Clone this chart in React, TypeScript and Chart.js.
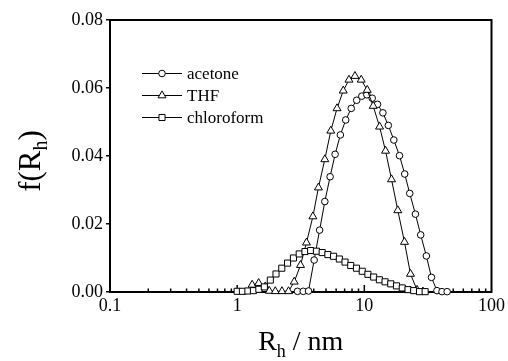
import React, { useEffect, useRef } from 'react';
import { Chart, registerables } from 'chart.js';

Chart.register(...registerables);

// ---- data (R_h in nm, f(R_h)) ----
const acetoneR = [2.98, 3.31, 3.64, 4.03, 4.45, 4.89, 5.38, 5.89, 6.48, 7.14, 7.89, 8.71, 9.55, 10.47, 11.53, 12.7, 13.99, 15.44, 17.06, 18.9, 20.78, 22.75, 25.22, 27.75, 30.74, 33.71, 37.25, 40.8, 44.8];
const acetoneF = [0.0002, 0.0002, 0.0003, 0.0094, 0.0182, 0.0266, 0.0339, 0.0405, 0.0462, 0.0506, 0.054, 0.0564, 0.0576, 0.058, 0.057, 0.0552, 0.0527, 0.049, 0.0447, 0.0401, 0.0347, 0.029, 0.0229, 0.0168, 0.0106, 0.0043, 0.0004, 0.0001, 0.0001];

const thfR = [1.311, 1.476, 1.665, 1.79, 1.995, 2.25, 2.535, 2.81, 3.148, 3.508, 3.94, 4.355, 4.89, 5.45, 6.1, 6.83, 7.57, 8.44, 9.45, 10.54, 11.74, 13.18, 14.68, 16.36, 18.33, 20.69, 23.06, 25.96, 28.9];
const thfF = [0.0021, 0.0026, 0.0016, 0.0003, 0.0002, 0.0002, 0.0002, 0.003, 0.0079, 0.0145, 0.0222, 0.0307, 0.039, 0.0474, 0.054, 0.0592, 0.0624, 0.0635, 0.0624, 0.0594, 0.0547, 0.0486, 0.0415, 0.0331, 0.024, 0.0147, 0.0053, 0.0006, 0.0001];

const chloroformR = [1.0, 1.1, 1.215, 1.342, 1.481, 1.636, 1.823, 2.02, 2.243, 2.49, 2.77, 3.076, 3.414, 3.785, 4.2, 4.66, 5.17, 5.73, 6.36, 7.05, 7.82, 8.67, 9.63, 10.67, 11.85, 13.13, 14.56, 16.14, 17.9, 19.87, 22.07, 24.45, 27.15, 30.07];
const chloroformF = [0.0002, 0.0002, 0.0003, 0.0004, 0.0008, 0.0015, 0.0035, 0.0053, 0.007, 0.0085, 0.01, 0.0112, 0.0119, 0.0122, 0.012, 0.0116, 0.011, 0.0105, 0.0097, 0.0088, 0.0078, 0.007, 0.0061, 0.0052, 0.0044, 0.0036, 0.003, 0.0024, 0.0018, 0.0012, 0.0007, 0.0004, 0.0001, 0.0001];

const seriesLabels = ['acetone', 'THF', 'chloroform'];
const seriesStyles = ['circle', 'triangle', 'rect'];
const seriesRadius = [3.3, 4.6, 4.3];

const xTickValues = [0.1, 1, 10, 100];
const xTickLabels = ['0.1', '1', '10', '100'];
const yMin = 0;
const yMax = 0.08;
const yStep = 0.02;

const SERIF = "'Liberation Serif', 'Times New Roman', serif";

function toPoints(xs: number[], ys: number[]) {
  return xs.map((x, i) => ({ x, y: ys[i] }));
}

function drawMarker(ctx: CanvasRenderingContext2D, style: string, x: number, y: number, r: number) {
  ctx.beginPath();
  if (style === 'circle') {
    ctx.arc(x, y, r, 0, Math.PI * 2);
  } else if (style === 'triangle') {
    const a = -Math.PI / 2;
    for (let k = 0; k < 3; k++) {
      const ang = a + (k * 2 * Math.PI) / 3;
      const px = x + Math.cos(ang) * r;
      const py = y + Math.sin(ang) * r;
      if (k === 0) ctx.moveTo(px, py);
      else ctx.lineTo(px, py);
    }
    ctx.closePath();
  } else {
    const s = r * Math.SQRT1_2;
    ctx.rect(x - s, y - s, 2 * s, 2 * s);
  }
  ctx.fillStyle = '#fff';
  ctx.fill();
  ctx.strokeStyle = '#000';
  ctx.lineWidth = 1;
  ctx.stroke();
}

const framePlugin = {
  id: 'frameAndTicks',
  beforeDatasetsDraw(chart: any) {
    const { ctx, chartArea } = chart;
    const xs = chart.scales.x;
    ctx.save();
    ctx.strokeStyle = '#000';
    ctx.lineWidth = 2;
    ctx.strokeRect(chartArea.left, chartArea.top, chartArea.right - chartArea.left, chartArea.bottom - chartArea.top);
    // inward x ticks (major + minor) from the log scale
    ctx.lineWidth = 1.5;
    for (let d = -1; d <= 1; d++) {
      for (let k = 1; k <= 9; k++) {
        const v = k * Math.pow(10, d);
        const px = xs.getPixelForValue(v);
        const len = k === 1 ? 7 : 3.5;
        ctx.beginPath();
        ctx.moveTo(px, chartArea.bottom);
        ctx.lineTo(px, chartArea.bottom - len);
        ctx.stroke();
      }
    }
    ctx.restore();
  },
  afterDraw(chart: any) {
    const { ctx, chartArea } = chart;
    ctx.save();
    // legend
    const rows = [73.5, 95.5, 117.5];
    ctx.font = `17px ${SERIF}`;
    ctx.textBaseline = 'middle';
    ctx.textAlign = 'left';
    seriesLabels.forEach((lab, i) => {
      const y = rows[i];
      ctx.strokeStyle = '#000';
      ctx.lineWidth = 1;
      ctx.beginPath();
      ctx.moveTo(142, y);
      ctx.lineTo(182, y);
      ctx.stroke();
      drawMarker(ctx, seriesStyles[i], 162, y, seriesRadius[i]);
      ctx.fillStyle = '#000';
      ctx.fillText(lab, 187, y + 1);
    });

    // x title: R_h / nm
    ctx.fillStyle = '#000';
    ctx.textBaseline = 'alphabetic';
    const big = `28px ${SERIF}`;
    const small = `18px ${SERIF}`;
    ctx.font = big;
    const wR = ctx.measureText('R').width;
    const wRest = ctx.measureText(' / nm').width;
    ctx.font = small;
    const wh = ctx.measureText('h').width;
    const total = wR + wh + wRest;
    const cx = (chartArea.left + chartArea.right) / 2;
    const x0 = cx - total / 2;
    const by = 350;
    ctx.font = big;
    ctx.fillText('R', x0, by);
    ctx.font = small;
    ctx.fillText('h', x0 + wR, by + 7);
    ctx.font = big;
    ctx.fillText(' / nm', x0 + wR + wh, by);

    // y title: f(R_h)
    const bigY = `31px ${SERIF}`;
    const smallY = `20px ${SERIF}`;
    ctx.save();
    ctx.translate(40, (chartArea.top + chartArea.bottom) / 2 + 5);
    ctx.rotate(-Math.PI / 2);
    ctx.font = bigY;
    const w1 = ctx.measureText('f(R').width;
    const w3 = ctx.measureText(')').width;
    ctx.font = smallY;
    const w2 = ctx.measureText('h').width;
    const tot = w1 + w2 + w3;
    const sx = -tot / 2;
    ctx.font = bigY;
    ctx.fillText('f(R', sx, 0);
    ctx.font = smallY;
    ctx.fillText('h', sx + w1, 7);
    ctx.font = bigY;
    ctx.fillText(')', sx + w1 + w2, 0);
    ctx.restore();

    ctx.restore();
  },
};

export default function App() {
  const ref = useRef<HTMLCanvasElement | null>(null);

  useEffect(() => {
    if (!ref.current) return;
    const mk = (i: number, xs: number[], ys: number[]) => ({
      label: seriesLabels[i],
      data: toPoints(xs, ys),
      showLine: true,
      borderColor: '#000',
      borderWidth: 1,
      tension: 0,
      pointStyle: seriesStyles[i],
      pointRadius: seriesRadius[i],
      pointBackgroundColor: '#fff',
      pointBorderColor: '#000',
      pointBorderWidth: 1,
      clip: false,
    });
    const chart = new Chart(ref.current, {
      type: 'scatter',
      data: {
        datasets: [
          mk(2, chloroformR, chloroformF),
          mk(1, thfR, thfF),
          mk(0, acetoneR, acetoneF),
        ],
      },
      options: {
        animation: false,
        responsive: false,
        devicePixelRatio: 1,
        layout: { padding: { left: 0, right: 15, top: 20, bottom: 0 } },
        plugins: { legend: { display: false }, tooltip: { enabled: false } },
        scales: {
          x: {
            type: 'logarithmic',
            min: 0.1,
            max: 100,
            position: 'bottom',
            afterBuildTicks: (s: any) => {
              s.ticks = xTickValues.map((v) => ({ value: v }));
            },
            afterFit: (s: any) => {
              s.height = 69;
            },
            ticks: {
              autoSkip: false,
              maxRotation: 0,
              color: '#000',
              padding: 3,
              font: { family: SERIF, size: 18 },
              callback: (v: any) => {
                const i = xTickValues.findIndex((t) => Math.abs(t - v) < 1e-9);
                return i >= 0 ? xTickLabels[i] : '';
              },
            },
            grid: { display: false, drawTicks: false },
            border: { display: false },
          },
          y: {
            type: 'linear',
            min: yMin,
            max: yMax,
            afterFit: (s: any) => {
              s.width = 110;
            },
            ticks: {
              stepSize: yStep,
              color: '#000',
              padding: 3,
              font: { family: SERIF, size: 18 },
              callback: (v: any) => Number(v).toFixed(2),
            },
            grid: {
              drawOnChartArea: false,
              drawTicks: true,
              tickLength: 4,
              color: '#000',
              lineWidth: 1.5,
            },
            border: { display: false },
          },
        },
      },
      plugins: [framePlugin],
    } as any);
    return () => chart.destroy();
  }, []);

  return (
    <div style={{ position: 'fixed', left: 0, top: 0, width: 508, height: 361, background: '#fff' }}>
      <canvas ref={ref} width={508} height={361} style={{ display: 'block' }} />
    </div>
  );
}
